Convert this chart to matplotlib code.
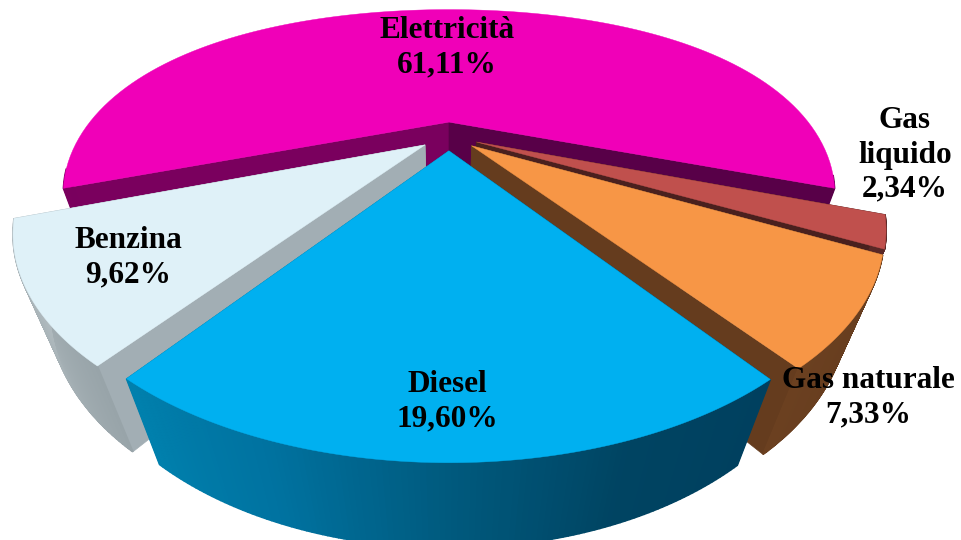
import matplotlib
matplotlib.use('Agg')
import matplotlib.pyplot as plt
import numpy as np
from matplotlib.colors import LinearSegmentedColormap

labels = ['Elettricità', 'Gas\nliquido', 'Gas naturale', 'Diesel', 'Benzina']
values = [61.11, 2.34, 7.33, 19.60, 9.62]

top_colors = ['#F000B8', '#C0504D', '#F79646', '#00B0F0', '#DFF1F8']
start_faces = ['#7A005E', '#4A201E', '#653C1E', '#004A6A', '#A2AEB4']
end_faces = ['#580048', '#4A201E', '#653C1E', '#00789F', '#A2AEB4']
wall_colors = [['#7A005E', '#580048'], ['#5A2826', '#5A2826'], ['#653C1E', '#6B4020'],
               ['#00405F', '#004462', '#005A7E', '#0072A0', '#0080AD'], ['#98A4A9', '#B4BEC2']]

label_pos = [(447, 48), (905, 155), (868, 398), (447, 402), (128, 258)]

# fake 3d pie: flat circle seen through a perspective, with a lower copy for the walls
cx, cy = 449, 136
a, b, p = 370, 180, 0.375
g, h = 0.076, 82
squash = 0.08  # far side of the pie is flatter than a true perspective
explode = 0.08


def project(u, v, drop=0):
    w = 1 - p * v + g * drop
    far = 1 - squash * np.clip(-v, 0, None)
    return cx + a * u / w, cy + (b * v * far + h * drop) / w


fig = plt.figure(figsize=(9.62, 5.4), dpi=100)
ax = fig.add_axes([0, 0, 1, 1])
ax.set_xlim(0, 962)
ax.set_ylim(540, 0)
ax.axis('off')

angles = np.cumsum([0] + values) * 3.6 - values[0] * 1.8

for i in [0, 1, 2, 4, 3]:
    t0, t1 = np.radians(angles[i]), np.radians(angles[i + 1])
    mid = (t0 + t1) / 2
    ou, ov = explode * np.sin(mid), -explode * np.cos(mid)
    t = np.linspace(t0, t1, 120)
    u = ou + np.sin(t)
    v = ov - np.cos(t)

    # cut faces
    for k, col in [(0, start_faces[i]), (-1, end_faces[i])]:
        x1, y1 = project(np.array([ou, u[k]]), np.array([ov, v[k]]))
        x2, y2 = project(np.array([u[k], ou]), np.array([v[k], ov]), 1)
        ax.fill(np.r_[x1, x2], np.r_[y1, y2], color=col, lw=0.5)

    # outer wall, strip by strip so it can carry a gradient (far side is hidden anyway)
    cmap = LinearSegmentedColormap.from_list('wall', wall_colors[i])
    xt, yt = project(u, v)
    xb, yb = project(u, v, 1)
    for j in range(len(t) - 1):
        if v[j] < 0.2:
            continue
        ax.fill([xt[j], xt[j + 1], xb[j + 1], xb[j]], [yt[j], yt[j + 1], yb[j + 1], yb[j]],
                color=cmap(j / (len(t) - 2)), lw=1.2)

    # top
    x0, y0 = project(ou, ov)
    ax.fill(np.r_[x0, xt], np.r_[y0, yt], color=top_colors[i], lw=0.3)

for name, val, (lx, ly) in zip(labels, values, label_pos):
    txt = name + '\n' + f'{val:.2f}'.replace('.', ',') + '%'
    ax.text(lx, ly, txt, ha='center', va='center', family='Liberation Serif', weight='bold',
            fontsize=22.5, color='black', linespacing=1.24)

fig.savefig('out.png', dpi=100)
